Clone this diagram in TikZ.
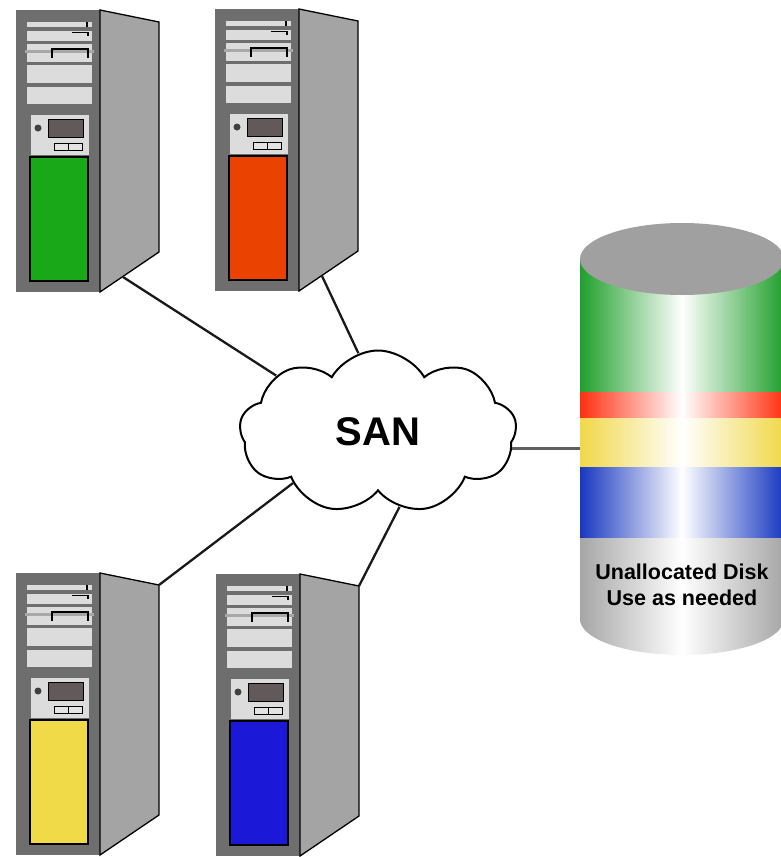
\documentclass[tikz,border=0pt]{standalone}
\usepackage{fontspec}
\setmainfont{Liberation Sans}
\usetikzlibrary{shapes.symbols}

\definecolor{towerframe}{HTML}{6E6E6E}
\definecolor{towerside}{HTML}{A4A4A4}
\definecolor{baygrey}{HTML}{DCDCDC}
\definecolor{displaygrey}{HTML}{625A5A}
\definecolor{panelgreen}{HTML}{18A818}
\definecolor{panelred}{HTML}{EA4200}
\definecolor{panelyellow}{HTML}{F0DA48}
\definecolor{panelblue}{HTML}{1C18D8}
\definecolor{diskgreen}{HTML}{20A02C}
\definecolor{diskred}{HTML}{FF3010}
\definecolor{diskyellow}{HTML}{F0D848}
\definecolor{diskblue}{HTML}{1838C0}
\definecolor{diskgrey}{HTML}{A6A6A6}
\definecolor{disktop}{HTML}{A0A0A0}
\definecolor{linkgrey}{HTML}{606060}

\tikzset{
  link/.style={line width=2.3pt, black!90},
  panel/.style={draw=black, line width=1.4pt},
  band/.style={left color=#1, right color=#1, middle color=white},
}

\newcommand{\servertower}[4]{%
  \begin{scope}[shift={(#1,#2)}]
    \fill[towerframe] (0,0) rectangle (84,282);
    \fill[baygrey] (11,12) rectangle (76,96);
    \foreach \y in {19,32.5,53.5,75,96}
      \draw[towerframe, line width=3.5pt] (9,\y) -- (78,\y);
    \draw[towerframe!60, line width=2.5pt] (9,41.5) -- (78,41.5);
    \draw[line width=1.2pt] (71,12) -- (71,17);
    \draw[line width=1.2pt] (56,22.5) -- (72,22.5) -- (72,26);
    \draw[line width=1.2pt] (36,48) -- (36,39) -- (72,39) -- (72,48);
    \fill[baygrey] (15,105) rectangle (73,145);
    \fill[black!75] (22,118) circle (3.5);
    \draw[fill=displaygrey, line width=1pt] (32,109) rectangle (67,127);
    \draw[fill=baygrey!80, line width=1pt] (38,133) rectangle (66,140) (52,133) -- (52,140);
    \draw[panel, fill=#3] (14,147) rectangle (72,271);
    \draw[fill=towerside, line width=1.3pt] (84,0) -- (143,12) -- (143,242) -- (84,282) -- cycle;
    \coordinate (#4 low) at (107,267);
    \coordinate (#4 top) at (143,12);
  \end{scope}}

\begin{document}
\begin{tikzpicture}[x=1pt,y=-1pt]
\useasboundingbox (0,0) rectangle (781,857);

\servertower{16}{10}{panelgreen}{srv1}
\servertower{215}{9}{panelred}{srv2}
\servertower{16}{573}{panelyellow}{srv3}
\servertower{216}{574}{panelblue}{srv4}

\begin{scope}
\clip (580,259) -- (580,619) arc[start angle=180, end angle=0, x radius=102, y radius=36] -- (784,259) -- cycle;
\shade[band=diskgreen] (580,200) rectangle (784,392);
\shade[band=diskred] (580,392) rectangle (784,418);
\shade[band=diskyellow] (580,418) rectangle (784,467);
\shade[band=diskblue] (580,467) rectangle (784,538);
\shade[band=diskgrey] (580,538) rectangle (784,660);
\end{scope}
\fill[disktop] (682,259) ellipse [x radius=102, y radius=36];
\node[align=center, font=\fontsize{21.5}{26}\selectfont\bfseries] (free) at (682,585) {Unallocated Disk\\Use as needed};
\coordinate (disk) at (580,448);

\node[cloud, draw, fill=white, line width=2pt, cloud puffs=9, cloud puff arc=120,
  cloud ignores aspect, minimum width=277pt, minimum height=163pt, inner sep=0pt,
  font=\fontsize{40}{48}\selectfont\bfseries] (san) at (378,432) {SAN};

\draw[link] (srv1 low) -- (san.151);
\draw[link] (srv2 low) -- (san.104);
\draw[link] (srv3 top) -- (san.211);
\draw[link] (srv4 top) -- (san.286);
\draw[link, draw=linkgrey] (san.353) -- (san.353 -| disk);
\end{tikzpicture}
\end{document}
